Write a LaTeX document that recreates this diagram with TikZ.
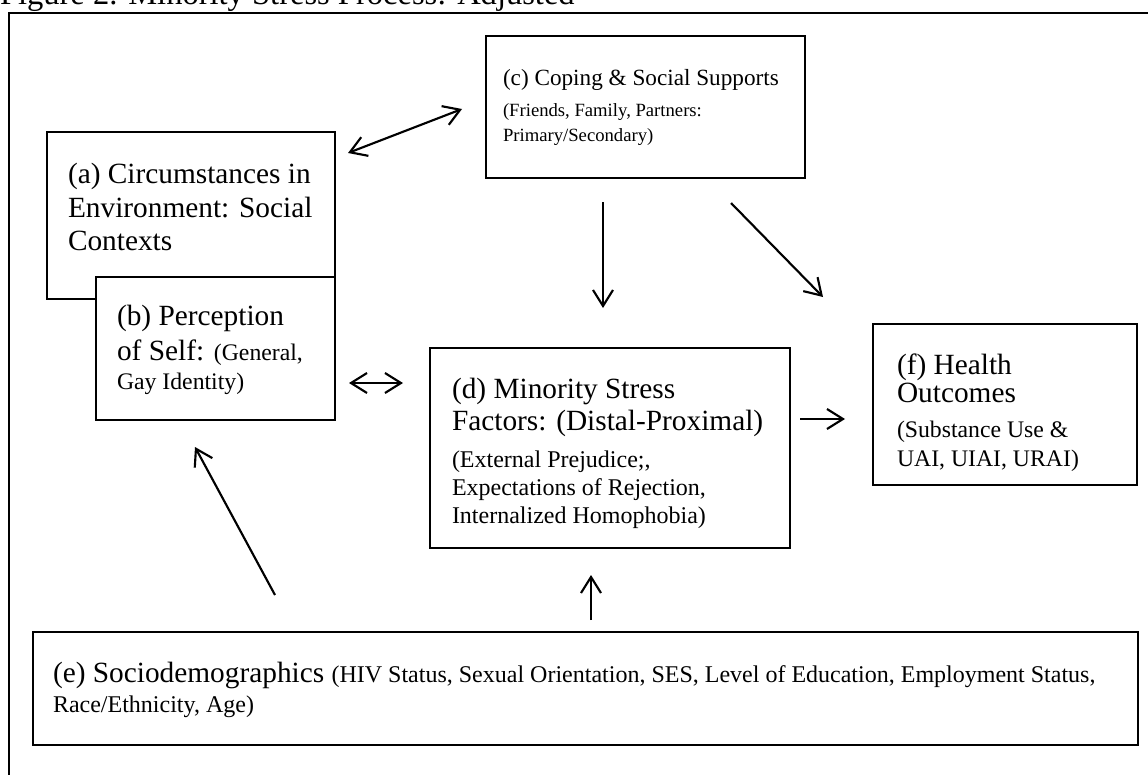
\documentclass[tikz,border=0pt]{standalone}
\usepackage{fontspec}
\setmainfont{Liberation Serif}
\usetikzlibrary{arrows.meta,fit}
\begin{document}
\begin{tikzpicture}[x=0.75pt,y=-0.75pt,
  box/.style={draw,line width=2pt,inner sep=0pt,fill=white},
  conn/.style={line width=1.6pt,-{Straight Barb[length=12pt,width=15pt,line width=1.6pt]}},
  biconn/.style={line width=1.6pt,{Straight Barb[length=12pt,width=15pt,line width=1.6pt]}-{Straight Barb[length=12pt,width=15pt,line width=1.6pt]}},
  txt/.style={anchor=base west,inner sep=0pt,outer sep=0pt},
  big/.style={font=\fontsize{22}{26}\selectfont},
  mid/.style={font=\fontsize{17.8}{21}\selectfont},
  small/.style={font=\fontsize{14}{17}\selectfont}]
\useasboundingbox (0,0) rectangle (1148,774);
\clip (0,0) rectangle (1148,774);
% title (clipped at top, as in the reference)
\node[txt,font=\fontsize{24.4}{28}\selectfont] (title) at (0,5) {Figure 2. Minority Stress Process: Adjusted};
% outer frame
\draw[line width=1.7pt] (9,13) rectangle (1170,800);
% boxes
\node[box,fit={(47,132) (335,299)}] (a) {};
\node[box,fit={(96,277) (335,420)}] (b) {};
\node[box,fit={(486,36) (805,178)}] (c) {};
\node[box,fit={(430,348) (790,548)}] (d) {};
\node[box,fit={(873,324) (1137,485)}] (f) {};
\node[box,fit={(33,632) (1138,745)}] (e) {};
% texts
\node[txt,big] (a1) at (68,183) {(a) Circumstances in};
\node[txt,big] (a2) at (68,217) {Environment: Social};
\node[txt,big] (a3) at (68,250) {Contexts};
\node[txt,big] (b1) at (117,325) {(b) Perception};
\node[txt,big] (b2) at (117,360) {of Self: {\fontsize{17.8}{21}\selectfont(General,}};
\node[txt,mid] (b3) at (117,389) {Gay Identity)};
\node[txt,font=\fontsize{17.4}{21}\selectfont] (c1) at (503,85) {(c) Coping \& Social Supports};
\node[txt,small] (c2) at (503,116) {(Friends, Family, Partners:};
\node[txt,small] (c3) at (503,141) {Primary/Secondary)};
\node[txt,big] (d1) at (452,398) {(d) Minority Stress};
\node[txt,big] (d2) at (452,430) {Factors: (Distal-Proximal)};
\node[txt,font=\fontsize{18}{21}\selectfont] (d3) at (452,467) {(External Prejudice;,};
\node[txt,font=\fontsize{18}{21}\selectfont] (d4) at (452,495) {Expectations of Rejection,};
\node[txt,font=\fontsize{18}{21}\selectfont] (d5) at (452,523) {Internalized Homophobia)};
\node[txt,big] (f1) at (897,374) {(f) Health};
\node[txt,big] (f2) at (897,402) {Outcomes};
\node[txt,mid] (f3) at (897,437) {(Substance Use \&};
\node[txt,mid] (f4) at (897,466) {UAI, UIAI, URAI)};
\node[txt,big] (e1) at (53,682) {(e) Sociodemographics {\fontsize{18}{21}\selectfont(HIV Status, Sexual Orientation, SES, Level of Education, Employment Status,}};
\node[txt,font=\fontsize{18}{21}\selectfont] (e2) at (53,712) {Race/Ethnicity, Age)};
% connector end points
\coordinate (ac1) at (348,153);
\coordinate (ac2) at (462,109);
\coordinate (bd1) at (349,383);
\coordinate (bd2) at (403,383);
\coordinate (cd1) at (603,202);
\coordinate (cd2) at (603,308);
\coordinate (cf1) at (731,203);
\coordinate (cf2) at (823,297);
\coordinate (df1) at (800,419);
\coordinate (df2) at (845,419);
\coordinate (eb1) at (275,595);
\coordinate (eb2) at (195,447);
\coordinate (ed1) at (591,620);
\coordinate (ed2) at (591,575);
% connectors
\draw[biconn] (ac1) -- (ac2);
\draw[biconn] (bd1) -- (bd2);
\draw[conn] (cd1) -- (cd2);
\draw[conn] (cf1) -- (cf2);
\draw[conn] (df1) -- (df2);
\draw[conn] (eb1) -- (eb2);
\draw[conn] (ed1) -- (ed2);
\end{tikzpicture}
\end{document}
